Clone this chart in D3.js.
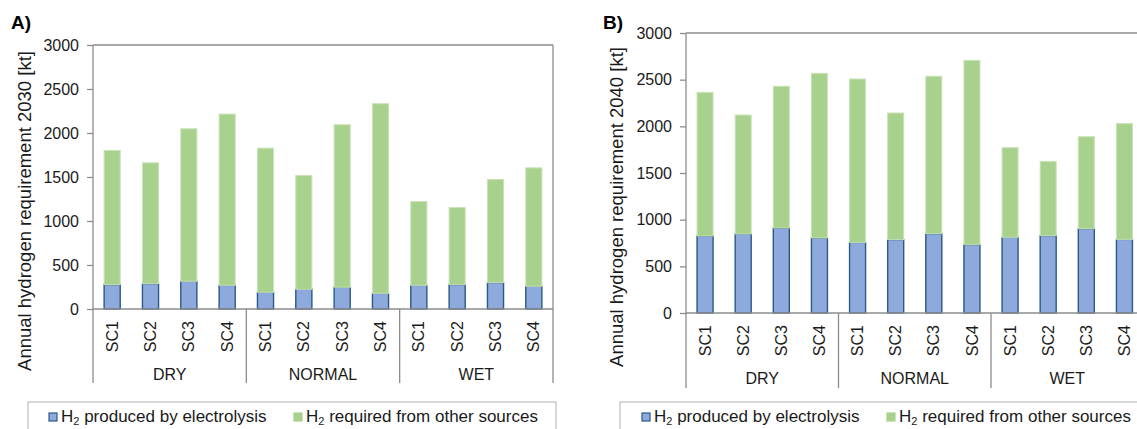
<!DOCTYPE html>
<html>
<head>
<meta charset="utf-8">
<script src="https://cdn.jsdelivr.net/npm/d3@7"></script>
<style>
  html, body { margin: 0; padding: 0; background: #fff; }
  svg { display: block; font-family: "Liberation Sans", Arial, sans-serif; }
</style>
</head>
<body>
<svg id="chart" width="1137" height="429"></svg>
<script>
// ---- data ----
const groups = ["DRY", "NORMAL", "WET"];
const scenarios = ["SC1", "SC2", "SC3", "SC4"];
const yTicks = [0, 500, 1000, 1500, 2000, 2500, 3000];
const seriesNames = ["produced by electrolysis", "required from other sources"];

// Panel A (2030)
const electrolysis2030 = [277, 288, 315, 269, 190, 224, 247, 178, 269, 277, 300, 258];
const otherSources2030 = [1525, 1373, 1733, 1946, 1638, 1293, 1847, 2155, 952, 876, 1172, 1346];
// Panel B (2040)
const electrolysis2040 = [825, 846, 911, 804, 757, 786, 850, 732, 811, 829, 904, 789];
const otherSources2040 = [1539, 1275, 1518, 1764, 1750, 1357, 1686, 1975, 960, 796, 985, 1240];

const colors = { electro: "#8EA9DB", electroStroke: "#2B5A86", other: "#A9D18E", otherStroke: "#C9E3B8" };
const axisColor = "#8C8C8C";

const svg = d3.select("#chart");

function drawPanel(cfg) {
  const g = svg.append("g");
  const keys = [];
  groups.forEach(gr => scenarios.forEach(sc => keys.push(gr + "|" + sc)));
  const rows = keys.map((k, i) => ({ key: k, electro: cfg.electro[i], other: cfg.other[i] }));

  const x = d3.scaleBand().domain(keys).range([cfg.left, cfg.right]).paddingInner(0.58).paddingOuter(0.29);
  const y = d3.scaleLinear().domain([0, 3000]).range([cfg.bottom, cfg.top]);

  // frame: top line and right line
  g.append("line").attr("x1", cfg.left).attr("x2", cfg.right).attr("y1", y(3000)).attr("y2", y(3000))
    .attr("stroke", axisColor).attr("stroke-width", 1.3);
  g.append("line").attr("x1", cfg.right).attr("x2", cfg.right).attr("y1", y(3000)).attr("y2", cfg.ext)
    .attr("stroke", axisColor).attr("stroke-width", 1.3);

  // stacked bars
  const stack = d3.stack().keys(["electro", "other"]);
  const layers = stack(rows);
  const fills = [colors.electro, colors.other];
  const strokes = [colors.electroStroke, colors.otherStroke];
  layers.forEach((layer, li) => {
    g.append("g").selectAll("rect").data(layer).join("rect")
      .attr("x", d => x(d.data.key))
      .attr("width", x.bandwidth())
      .attr("y", d => y(d[1]))
      .attr("height", d => y(d[0]) - y(d[1]))
      .attr("fill", fills[li])
      .attr("stroke", strokes[li])
      .attr("stroke-width", li === 0 ? 1.4 : 1);
  });

  // y axis
  const yAxis = d3.axisLeft(y).tickValues(yTicks).tickSize(6).tickPadding(8).tickFormat(d3.format("d"));
  const ya = g.append("g").attr("transform", `translate(${cfg.left},0)`).call(yAxis);
  ya.select(".domain").remove();
  ya.selectAll(".tick line").attr("stroke", axisColor).attr("stroke-width", 1.3);
  ya.selectAll(".tick text").attr("fill", "#1a1a1a").style("font-size", "16px").style("font-family", "Liberation Sans, Arial, sans-serif");
  g.append("line").attr("x1", cfg.left).attr("x2", cfg.left).attr("y1", y(3000)).attr("y2", cfg.ext)
    .attr("stroke", axisColor).attr("stroke-width", 1.3);

  // baseline
  g.append("line").attr("x1", cfg.left).attr("x2", cfg.right).attr("y1", y(0)).attr("y2", y(0))
    .attr("stroke", axisColor).attr("stroke-width", 1.3);

  // category labels (rotated)
  g.append("g").selectAll("text").data(keys).join("text")
    .attr("transform", k => `translate(${x(k) + x.bandwidth() / 2},${cfg.bottom + 12}) rotate(-90)`)
    .attr("text-anchor", "end").attr("dy", "0.35em")
    .attr("fill", "#1a1a1a").style("font-size", "16px")
    .text(k => k.split("|")[1]);

  // group separators and labels
  groups.forEach((gr, gi) => {
    const gx0 = cfg.left + gi * (cfg.right - cfg.left) / groups.length;
    const gx1 = cfg.left + (gi + 1) * (cfg.right - cfg.left) / groups.length;
    if (gi > 0) {
      g.append("line").attr("x1", gx0).attr("x2", gx0).attr("y1", y(0)).attr("y2", cfg.ext)
        .attr("stroke", axisColor).attr("stroke-width", 1.3);
    }
    g.append("text").attr("x", (gx0 + gx1) / 2).attr("y", cfg.groupY).attr("dy", "0.35em")
      .attr("text-anchor", "middle").attr("fill", "#1a1a1a").style("font-size", "16px").text(gr);
  });

  // y title
  g.append("text")
    .attr("transform", `translate(${cfg.titleX},${cfg.titleY}) rotate(-90)`)
    .attr("text-anchor", "middle").attr("dy", "0.35em")
    .attr("fill", "#1a1a1a").style("font-size", "18.5px")
    .text(cfg.yTitle);

  // panel letter
  g.append("text").attr("x", cfg.letterX).attr("y", 29).attr("fill", "#000")
    .style("font-size", "19px").style("font-weight", "bold").text(cfg.letter);

  // legend
  g.append("rect").attr("x", cfg.legX).attr("y", cfg.legY).attr("width", cfg.legW).attr("height", 40)
    .attr("fill", "none").attr("stroke", "#B0B0B0").attr("stroke-width", 1);
  const legItems = [
    { fill: colors.electro, stroke: colors.electroStroke, x: cfg.leg1, name: seriesNames[0] },
    { fill: colors.other, stroke: colors.other, x: cfg.leg2, name: seriesNames[1] }
  ];
  legItems.forEach(it => {
    g.append("rect").attr("x", it.x).attr("y", cfg.legY + 11).attr("width", 8).attr("height", 8)
      .attr("fill", it.fill).attr("stroke", it.stroke).attr("stroke-width", 1.2);
    const t = g.append("text").attr("x", it.x + 12).attr("y", cfg.legY + 20)
      .attr("fill", "#1a1a1a").style("font-size", "17px");
    t.append("tspan").text("H");
    t.append("tspan").attr("dy", 3).style("font-size", "11px").text("2");
    t.append("tspan").attr("dy", -3).text(" " + it.name);
  });
}

drawPanel({
  electro: electrolysis2030, other: otherSources2030,
  left: 93, right: 553, top: 45, bottom: 309, ext: 383, groupY: 374,
  titleX: 25, titleY: 211, yTitle: "Annual hydrogen requirement 2030 [kt]",
  letter: "A)", letterX: 11,
  legX: 28, legY: 402, legW: 528, leg1: 49, leg2: 294
});
drawPanel({
  electro: electrolysis2040, other: otherSources2040,
  left: 686, right: 1143.5, top: 33, bottom: 313, ext: 388, groupY: 378,
  titleX: 617, titleY: 207, yTitle: "Annual hydrogen requirement 2040 [kt]",
  letter: "B)", letterX: 603,
  legX: 620, legY: 402, legW: 540, leg1: 642, leg2: 887
});
</script>
</body>
</html>
